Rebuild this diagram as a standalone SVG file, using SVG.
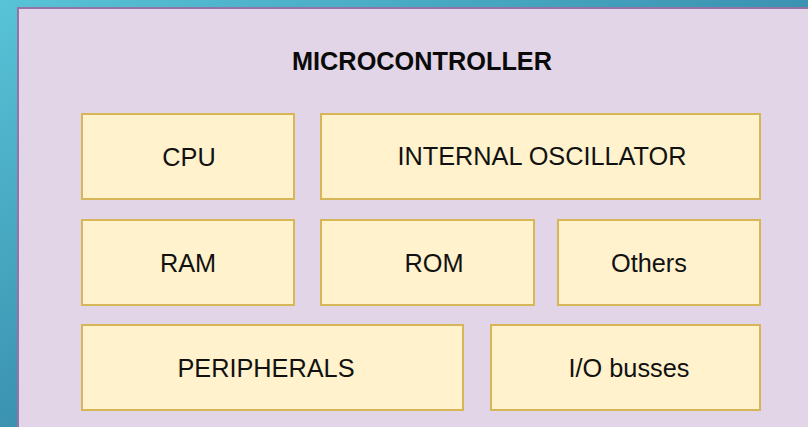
<svg xmlns="http://www.w3.org/2000/svg" width="808" height="427" viewBox="0 0 808 427">
  <defs>
    <linearGradient id="bg" x1="0" y1="0" x2="1" y2="1">
      <stop offset="0" stop-color="#58c3d7"/>
      <stop offset="0.5" stop-color="#3b93b1"/>
      <stop offset="1" stop-color="#2a5f84"/>
    </linearGradient>
    <style>
      .block { fill: #fff2cc; stroke: #d6b656; stroke-width: 2; }
      .label { font-family: "Liberation Sans", Arial, sans-serif; font-size: 25.3px; fill: #111111; text-anchor: middle; }
      .title { font-family: "Liberation Sans", Arial, sans-serif; font-size: 25.3px; font-weight: bold; fill: #0a0a0a; text-anchor: middle; }
    </style>
  </defs>

  <!-- backdrop -->
  <rect x="0" y="0" width="808" height="427" fill="url(#bg)"/>

  <!-- microcontroller container -->
  <g id="microcontroller">
    <rect x="18" y="8" width="812" height="440" fill="#e1d5e7" stroke="#9673a6" stroke-width="2"/>
    <text class="title" x="422" y="70">MICROCONTROLLER</text>
  </g>

  <g id="cpu">
    <rect class="block" x="82" y="114" width="212" height="85"/>
    <text class="label" x="189" y="166">CPU</text>
  </g>
  <g id="internal-oscillator">
    <rect class="block" x="321" y="114" width="439" height="85"/>
    <text class="label" x="542" y="165">INTERNAL OSCILLATOR</text>
  </g>

  <g id="ram">
    <rect class="block" x="82" y="220" width="212" height="85"/>
    <text class="label" x="188" y="272">RAM</text>
  </g>
  <g id="rom">
    <rect class="block" x="321" y="220" width="213" height="85"/>
    <text class="label" x="434" y="272">ROM</text>
  </g>
  <g id="others">
    <rect class="block" x="558" y="220" width="202" height="85"/>
    <text class="label" x="649" y="272">Others</text>
  </g>

  <g id="peripherals">
    <rect class="block" x="82" y="325" width="381" height="85"/>
    <text class="label" x="266" y="377">PERIPHERALS</text>
  </g>
  <g id="io-busses">
    <rect class="block" x="491" y="325" width="269" height="85"/>
    <text class="label" x="629" y="377">I/O busses</text>
  </g>

  <!-- no connectors between blocks -->
  <g id="connectors"/>
</svg>
